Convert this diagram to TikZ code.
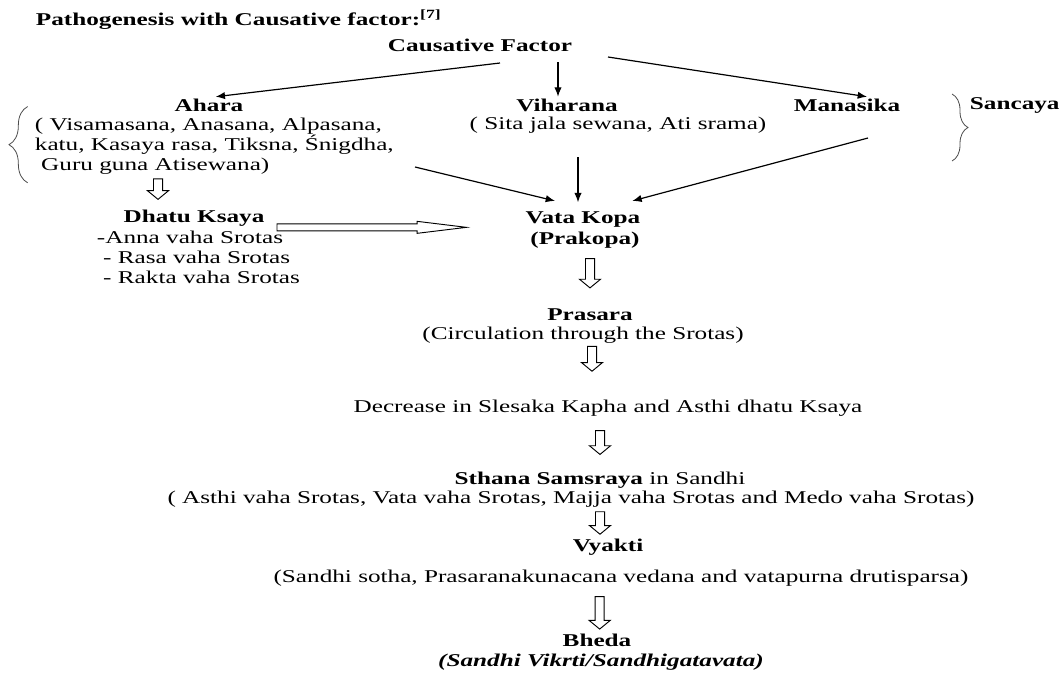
\documentclass[tikz,border=0pt]{standalone}
\usepackage{fontspec}
\setmainfont{Liberation Serif}[FakeStretch=1.4]
\usetikzlibrary{positioning}
\usetikzlibrary{calc}
\usetikzlibrary{arrows.meta}
\usetikzlibrary{decorations.pathreplacing}

\tikzset{
  txt/.style={font=\fontsize{13.5}{15}\selectfont, inner sep=1pt},
  head/.style={txt, font=\fontsize{13.5}{15}\selectfont\bfseries},
  hollowdown/.style={line width=0.7pt, to path={let \p1=(\tikztostart), \p2=(\tikztotarget) in
    (\x2-3.4pt,\y1) -- (\x2-3.4pt,\y2+6.5pt) -- (\x2-7.9pt,\y2+6.5pt) -- (\x2,\y2)
    -- (\x2+7.9pt,\y2+6.5pt) -- (\x2+3.4pt,\y2+6.5pt) -- (\x2+3.4pt,\y1) -- cycle}},
  hollowright/.style={line width=0.7pt, to path={let \p1=(\tikztostart), \p2=(\tikztotarget) in
    (\x1,\y1+2.6pt) -- (\x2-37pt,\y1+2.6pt) -- (\x2-37pt,\y1+4.5pt) -- (\x2,\y1)
    -- (\x2-37pt,\y1-4.5pt) -- (\x2-37pt,\y1-2.6pt) -- (\x1,\y1-2.6pt) -- cycle}},
  brc/.style={decorate, line width=0.6pt, draw=black!70}
}

\begin{document}
\begin{tikzpicture}[x=0.75pt, y=-0.75pt, line width=0.9pt, >={Latex[length=7pt,width=5.5pt]}]
    \useasboundingbox (0,0) rectangle (1060,682);
    % top level
    \node [head, anchor=west] (title) at (34,20) {Pathogenesis with Causative factor:\textsuperscript{[7]}};
    \node [head] (cf) at (480,45) {Causative Factor};
    \node [head] (ahara) at (209,105) {Ahara};
    \node [txt, anchor=west, align=left] (aharalist) at (33,146) {( Visamasana, Anasana, Alpasana,\\katu, Kasaya rasa, Tiksna, Śnigdha,\\\ Guru guna Atisewana)};
    \node [head] (vihar) at (567,105) {Viharana};
    \node [txt] (viharlist) at (618,125) {( Sita jala sewana, Ati srama)};
    \node [head] (manas) at (847,105) {Manasika};
    \node [head, anchor=west] (sancaya) at (968,105) {Sancaya};
    % dhatu ksaya branch
    \node [head] (dhatu) at (194,218) {Dhatu Ksaya};
    \node [txt, anchor=west, align=left] (dhatulist) at (95,257) {-Anna vaha Srotas\\\ - Rasa vaha Srotas\\\ - Rakta vaha Srotas};
    % main column
    \node [head] (vata) at (583,220) {Vata Kopa};
    \node [head] (prakopa) at (585,240) {(Prakopa)};
    \node [head, inner sep=0pt] (prasara) at (590,315) {Prasara};
    \node [txt, inner sep=0pt] (circ) at (583,335) {(Circulation through the Srotas)};
    \node [txt] (decrease) at (608,408) {Decrease in Slesaka Kapha and Asthi dhatu Ksaya};
    \node [txt] (sthana) at (600,480) {\textbf{Sthana Samsraya} in Sandhi};
    \node [txt] (sthanalist) at (571,499) {( Asthi vaha Srotas, Vata vaha Srotas, Majja vaha Srotas and Medo vaha Srotas)};
    \node [head] (vyakti) at (608,547) {Vyakti};
    \node [txt] (vyaktilist) at (621,578) {(Sandhi sotha, Prasaranakunacana vedana and vatapurna drutisparsa)};
    \node [head] (bheda) at (597,640) {Bheda};
    \node [head, font=\fontsize{13.5}{15}\selectfont\bfseries\itshape] (bhedalist) at (601,662) {(Sandhi Vikrti/Sandhigatavata)};
    % free ends
    \coordinate (c1) at (500,63);
    \coordinate (c2) at (558,62);
    \coordinate (c3) at (608,57);
    \coordinate (v1) at (415,167);
    \coordinate (v2) at (578,157);
    \coordinate (v3) at (868,138);
    \coordinate (br1) at (952,94);
    \coordinate (br2) at (952,161);
    \draw[->] (c1) -- ([xshift=5pt]ahara.north);
    \draw[->] (c2) -- (c2 |- vihar.north);
    \draw[->] (c3) -- ([xshift=15pt]manas.north);
    \draw[->] (v1) -- ([xshift=-21pt,yshift=7pt]vata.north);
    \draw[->] (v2) -- ([yshift=6pt]v2 |- vata.north);
    \draw[->] (v3) -- ([xshift=37pt,yshift=7pt]vata.north);
    % hollow arrows
    \draw[hollowright] ([xshift=8pt,yshift=-7pt]dhatu.east) to ([xshift=-43pt]vata.west);
    \draw[hollowdown] ([yshift=-2pt]aharalist.south) to ([xshift=-27pt,yshift=6.4pt]dhatu.north);
    \draw[hollowdown] ([yshift=-6.4pt]prakopa.south) to ([xshift=0pt,yshift=15.4pt]prasara.north);
    \draw[hollowdown] ([yshift=-2pt]circ.south) to ([xshift=-12pt,yshift=20pt]decrease.north);
    \draw[hollowdown] ([yshift=-9.4pt]decrease.south) to ([yshift=11.6pt]sthana.north);
    \draw[hollowdown] ([yshift=-2pt]sthanalist.south) to ([xshift=-6pt,yshift=2pt]vyakti.north);
    \draw[hollowdown] ([yshift=-6.4pt]vyaktilist.south) to ([xshift=2pt,yshift=2pt]bheda.north);
    % braces
    \draw[brc, decoration={brace, amplitude=14pt}] ([xshift=-4pt,yshift=-5pt]aharalist.south west) -- ([xshift=-4pt,yshift=7pt]aharalist.north west);
    \draw[brc, decoration={brace, amplitude=12pt}] (br1) -- (br2);
\end{tikzpicture}
\end{document}
